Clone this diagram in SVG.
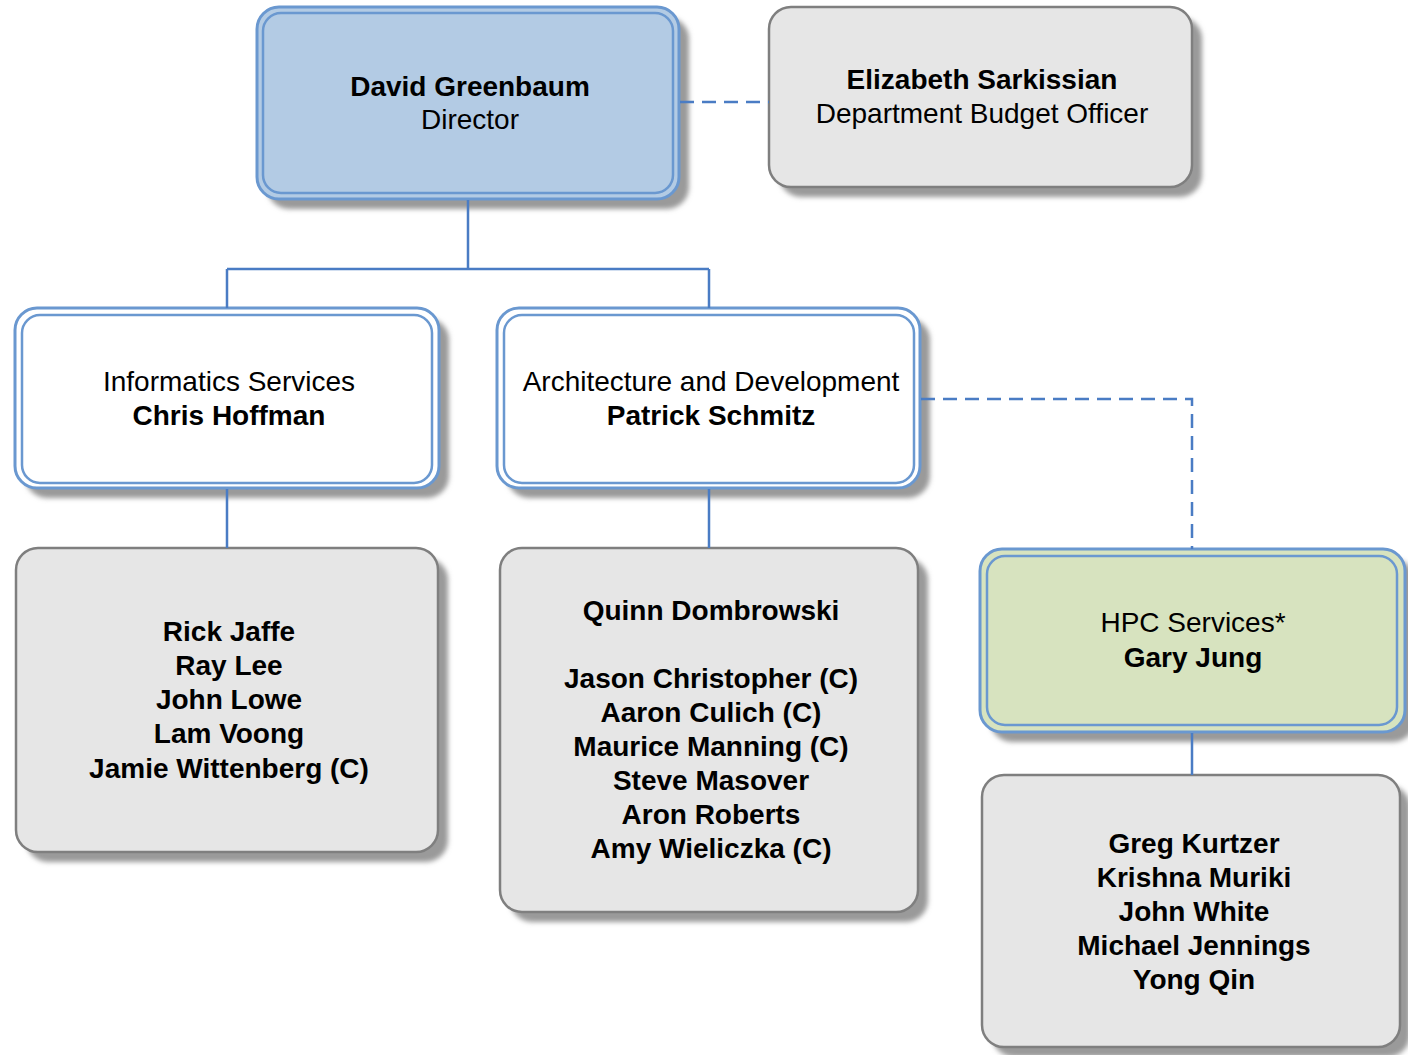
<svg xmlns="http://www.w3.org/2000/svg" width="1408" height="1055" viewBox="0 0 1408 1055">
<style>
text{font-family:"Liberation Sans",Arial,sans-serif;font-size:28px;fill:#000;text-anchor:middle}
.b{font-weight:bold}
.conn{fill:none;stroke:#4a7cc4;stroke-width:2.5}
.dash{stroke-dasharray:14,8}
.sh{fill:#9a9a9a;filter:url(#blur)}
.dbl{stroke:#6a98d0;stroke-width:3}
.inner{fill:none;stroke:#6a98d0;stroke-width:2.5}
.gray{fill:#e6e6e6;stroke:#7f7f7f;stroke-width:2.5}
</style>
<defs>
<filter id="blur" x="-10%" y="-10%" width="120%" height="120%"><feGaussianBlur stdDeviation="2.5"/></filter>
</defs>
<g id="director">
<rect class="sh" x="267" y="17" width="422" height="192" rx="22"/>
<rect class="dbl" x="257" y="7" width="422" height="192" rx="22" fill="#b3cbe4"/>
<rect class="inner" x="263" y="13" width="410" height="180" rx="18"/>
<text class="b" x="470" y="96">David Greenbaum</text>
<text x="470" y="129">Director</text>
</g>
<g id="budget">
<rect class="sh" x="779" y="17" width="423" height="180" rx="22"/>
<rect class="gray" x="769" y="7" width="423" height="180" rx="22"/>
<text class="b" x="982" y="89">Elizabeth Sarkissian</text>
<text x="982" y="123">Department Budget Officer</text>
</g>
<g id="informatics">
<rect class="sh" x="25" y="318" width="424" height="180" rx="22"/>
<rect class="dbl" x="15" y="308" width="424" height="180" rx="22" fill="#fff"/>
<rect class="inner" x="22" y="315" width="410" height="168" rx="18"/>
<text x="229" y="391">Informatics Services</text>
<text class="b" x="229" y="425">Chris Hoffman</text>
</g>
<g id="architecture">
<rect class="sh" x="507" y="318" width="423" height="180" rx="22"/>
<rect class="dbl" x="497" y="308" width="423" height="180" rx="22" fill="#fff"/>
<rect class="inner" x="504" y="315" width="410" height="168" rx="18"/>
<text x="711" y="391">Architecture and Development</text>
<text class="b" x="711" y="425">Patrick Schmitz</text>
</g>
<g id="hpc">
<rect class="sh" x="990" y="559" width="425" height="183" rx="22"/>
<rect class="dbl" x="980" y="549" width="425" height="183" rx="22" fill="#d7e3bf"/>
<rect class="inner" x="987" y="556" width="410" height="169" rx="18"/>
<text x="1193" y="632">HPC Services*</text>
<text class="b" x="1193" y="667">Gary Jung</text>
</g>
<g id="informatics-staff">
<rect class="sh" x="26" y="558" width="422" height="304" rx="22"/>
<rect class="gray" x="16" y="548" width="422" height="304" rx="22"/>
<text class="b" x="229" y="641">Rick Jaffe</text>
<text class="b" x="229" y="675">Ray Lee</text>
<text class="b" x="229" y="709">John Lowe</text>
<text class="b" x="229" y="743">Lam Voong</text>
<text class="b" x="229" y="778">Jamie Wittenberg (C)</text>
</g>
<g id="architecture-staff">
<rect class="sh" x="510" y="558" width="418" height="364" rx="22"/>
<rect class="gray" x="500" y="548" width="418" height="364" rx="22"/>
<text class="b" x="711" y="620">Quinn Dombrowski</text>
<text class="b" x="711" y="688">Jason Christopher (C)</text>
<text class="b" x="711" y="722">Aaron Culich (C)</text>
<text class="b" x="711" y="756">Maurice Manning (C)</text>
<text class="b" x="711" y="790">Steve Masover</text>
<text class="b" x="711" y="824">Aron Roberts</text>
<text class="b" x="711" y="858">Amy Wieliczka (C)</text>
</g>
<g id="hpc-staff">
<rect class="sh" x="992" y="785" width="418" height="272" rx="22"/>
<rect class="gray" x="982" y="775" width="418" height="272" rx="22"/>
<text class="b" x="1194" y="853">Greg Kurtzer</text>
<text class="b" x="1194" y="887">Krishna Muriki</text>
<text class="b" x="1194" y="921">John White</text>
<text class="b" x="1194" y="955">Michael Jennings</text>
<text class="b" x="1194" y="989">Yong Qin</text>
</g>
<g id="connectors">
<path class="conn" d="M468 200V269M227 269H709M227 269V308M709 269V308M227 489V548M709 489V548M1192 733V775"/>
<path class="conn dash" d="M680 102H769M921 399H1192V549"/>
</g>
</svg>
